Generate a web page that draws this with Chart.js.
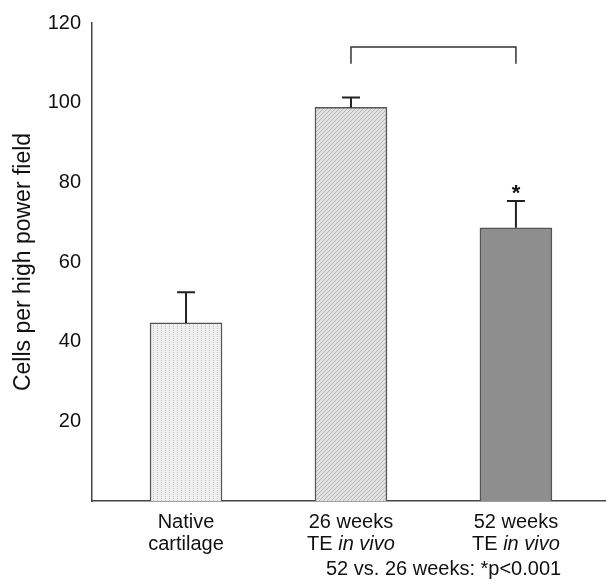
<!DOCTYPE html>
<html>
<head>
<meta charset="utf-8">
<script src="https://cdn.jsdelivr.net/npm/chart.js@4.4.1/dist/chart.umd.min.js"></script>
<style>
  html, body { margin: 0; padding: 0; background: #fff; }
  #wrap { width: 606px; height: 587px; }
</style>
</head>
<body>
<div id="wrap"><canvas id="cellChart" width="606" height="587"></canvas></div>
<script>
// data
const labelTop = ['Native', '26 weeks', '52 weeks'];
const labelBottom = ['cartilage', 'TE', 'TE'];
const labelItalic = ['', 'in vivo', 'in vivo'];
const means = [44.7, 98.8, 68.6];
const errors = [7.7, 2.5, 6.7];
const yTicks = [20, 40, 60, 80, 100, 120];
const footnote = '52 vs. 26 weeks: *p<0.001';
const FONT = '"Liberation Sans", Arial, sans-serif';

// fill patterns for the bars
function makePattern(size, draw) {
    const c = document.createElement('canvas');
    c.width = size; c.height = size;
    const g = c.getContext('2d');
    draw(g);
    return c.getContext('2d').createPattern(c, 'repeat');
}
const dotted = makePattern(4, g => {
    g.fillStyle = '#efefef'; g.fillRect(0, 0, 4, 4);
    g.fillStyle = '#c4c4c4'; g.fillRect(1, 0, 1, 1); g.fillRect(1, 2, 1, 1);
});
const hatched = makePattern(4, g => {
    g.fillStyle = '#e2e2e2'; g.fillRect(0, 0, 4, 4);
    g.fillStyle = '#b8b8b8';
    for (let i = 0; i < 4; i++) g.fillRect(3 - i, i, 1, 1);
});
const barFills = [dotted, hatched, '#8e8e8e'];

// error bars, bracket, star and category labels
const extras = {
    id: 'extras',
    afterDatasetsDraw(chart) {
        const ctx = chart.ctx;
        const xs = chart.scales.x, ys = chart.scales.y;
        ctx.save();
        ctx.strokeStyle = '#222';
        ctx.lineWidth = 2;
        means.forEach((m, i) => {
            const x = xs.getPixelForValue(i);
            const y0 = ys.getPixelForValue(m);
            const y1 = ys.getPixelForValue(m + errors[i]);
            ctx.beginPath();
            ctx.moveTo(x, y0); ctx.lineTo(x, y1);
            ctx.moveTo(x - 9, y1); ctx.lineTo(x + 9, y1);
            ctx.stroke();
        });

        // bracket between 26 and 52 weeks
        ctx.lineWidth = 1.5;
        ctx.strokeStyle = '#333';
        const bx1 = xs.getPixelForValue(1), bx2 = xs.getPixelForValue(2);
        const bTop = ys.getPixelForValue(114), bLeg = ys.getPixelForValue(109.8);
        ctx.beginPath();
        ctx.moveTo(bx1, bLeg); ctx.lineTo(bx1, bTop); ctx.lineTo(bx2, bTop); ctx.lineTo(bx2, bLeg);
        ctx.stroke();

        ctx.fillStyle = '#111';
        ctx.textAlign = 'center';
        ctx.textBaseline = 'middle';
        ctx.font = 'bold 22px ' + FONT;
        ctx.fillText('*', bx2, ys.getPixelForValue(77.2));

        // category labels
        const F = '20px ' + FONT, FI = 'italic 20px ' + FONT;
        labelTop.forEach((t, i) => {
            const x = xs.getPixelForValue(i);
            ctx.textAlign = 'center';
            ctx.font = F;
            ctx.fillText(t, x, 522);
            const a = labelBottom[i], b = labelItalic[i];
            if (!b) {
                ctx.fillText(a, x, 544);
            } else {
                const aw = ctx.measureText(a + ' ').width;
                ctx.font = FI;
                const bw = ctx.measureText(b).width;
                const start = x - (aw + bw) / 2;
                ctx.textAlign = 'left';
                ctx.font = F;
                ctx.fillText(a + ' ', start, 544);
                ctx.font = FI;
                ctx.fillText(b, start + aw, 544);
            }
        });
        ctx.textAlign = 'left';
        ctx.font = F;
        ctx.fillText(footnote, 326, 569);
        ctx.restore();
    }
};

const ctx = document.getElementById('cellChart').getContext('2d');
new Chart(ctx, {
    type: 'bar',
    data: {
        datasets: [{
            data: means.map((v, i) => ({ x: i, y: v })),
            backgroundColor: barFills,
            borderColor: '#555',
            borderWidth: 1.5,
            barThickness: 72
        }]
    },
    options: {
        responsive: false,
        animation: false,
        layout: { padding: { top: 20, right: 1 } },
        plugins: { legend: { display: false }, tooltip: { enabled: false } },
        scales: {
            x: {
                type: 'linear',
                offset: false,
                min: -0.57,
                max: 2.54,
                grid: { display: false, drawTicks: false },
                ticks: { display: false },
                border: { display: true, color: '#444', width: 1.5 },
                afterFit: s => { s.height = 86; }
            },
            y: {
                min: 0,
                max: 120,
                grid: { display: false, drawTicks: false },
                border: { display: true, color: '#444', width: 1.5 },
                ticks: {
                    stepSize: 20,
                    padding: 11,
                    color: '#111',
                    font: { family: FONT, size: 20 },
                    callback: v => yTicks.includes(v) ? v : ''
                },
                title: {
                    display: true,
                    text: 'Cells per high power field',
                    color: '#111',
                    font: { family: FONT, size: 23 },
                    padding: { top: 10, bottom: 0 }
                },
                afterFit: s => { s.width = 92; }
            }
        }
    },
    plugins: [extras]
});
</script>
</body>
</html>
